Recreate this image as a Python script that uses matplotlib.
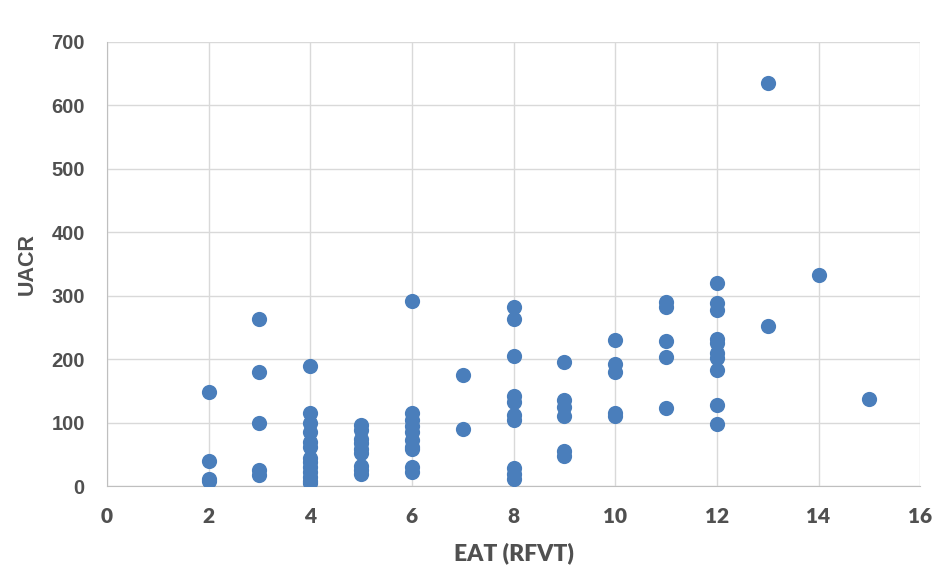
import matplotlib.pyplot as plt

# EAT (RFVT) score and the UACR values
eat = ([2] * 4 + [3] * 5 + [4] * 13 + [5] * 9 + [6] * 10 + [7] * 2 + [8] * 10
       + [9] * 6 + [10] * 5 + [11] * 5 + [12] * 10 + [13] * 2 + [14] + [15])
uacr = ([148, 40, 12, 8,
         263, 180, 100, 25, 17,
         190, 115, 100, 85, 70, 62, 45, 38, 30, 22, 15, 8, 5,
         97, 88, 75, 68, 58, 52, 32, 25, 20,
         292, 115, 105, 95, 85, 73, 62, 58, 30, 22,
         175, 90,
         282, 263, 205, 142, 133, 112, 105, 28, 20, 12,
         196, 135, 125, 110, 55, 47,
         230, 192, 180, 116, 111,
         290, 282, 228, 204, 123,
         320, 288, 278, 232, 225, 210, 202, 183, 128, 98,
         635, 252,
         333,
         137])

xticks = list(range(0, 17, 2))
yticks = list(range(0, 701, 100))

fig = plt.figure(figsize=(9.38, 5.72), dpi=100)
ax = fig.add_axes([0.114, 0.150, 0.867, 0.777])

ax.scatter(eat, uacr, s=120, color='#4A7EBB', zorder=3, linewidths=0)

ax.set_xlim(0, 16)
ax.set_ylim(0, 700)
ax.set_xticks(xticks)
ax.set_yticks(yticks)
ax.grid(True, color='#D9D9D9', linewidth=1, zorder=0)
for s in ['top', 'right']:
    ax.spines[s].set_visible(False)
for s in ['left', 'bottom']:
    ax.spines[s].set_color('#BFBFBF')
ax.tick_params(length=0, colors='#505050')
ax.tick_params(axis='y', pad=16)
ax.tick_params(axis='x', pad=15)

for lab in ax.get_yticklabels():
    lab.set_fontfamily('Liberation Sans')
    lab.set_fontweight('bold')
    lab.set_fontsize(14.5)
for lab in ax.get_xticklabels():
    lab.set_fontfamily('Lato')
    lab.set_fontweight('heavy')
    lab.set_fontsize(15)

ax.set_xlabel('EAT (RFVT)', fontfamily='Lato', fontweight='heavy', fontsize=16.5,
              color='#505050', labelpad=12)
ax.set_ylabel('UACR', fontfamily='Liberation Sans', fontweight='bold', fontsize=15.5,
              color='#505050', labelpad=10)

fig.savefig('out.png', dpi=100)
